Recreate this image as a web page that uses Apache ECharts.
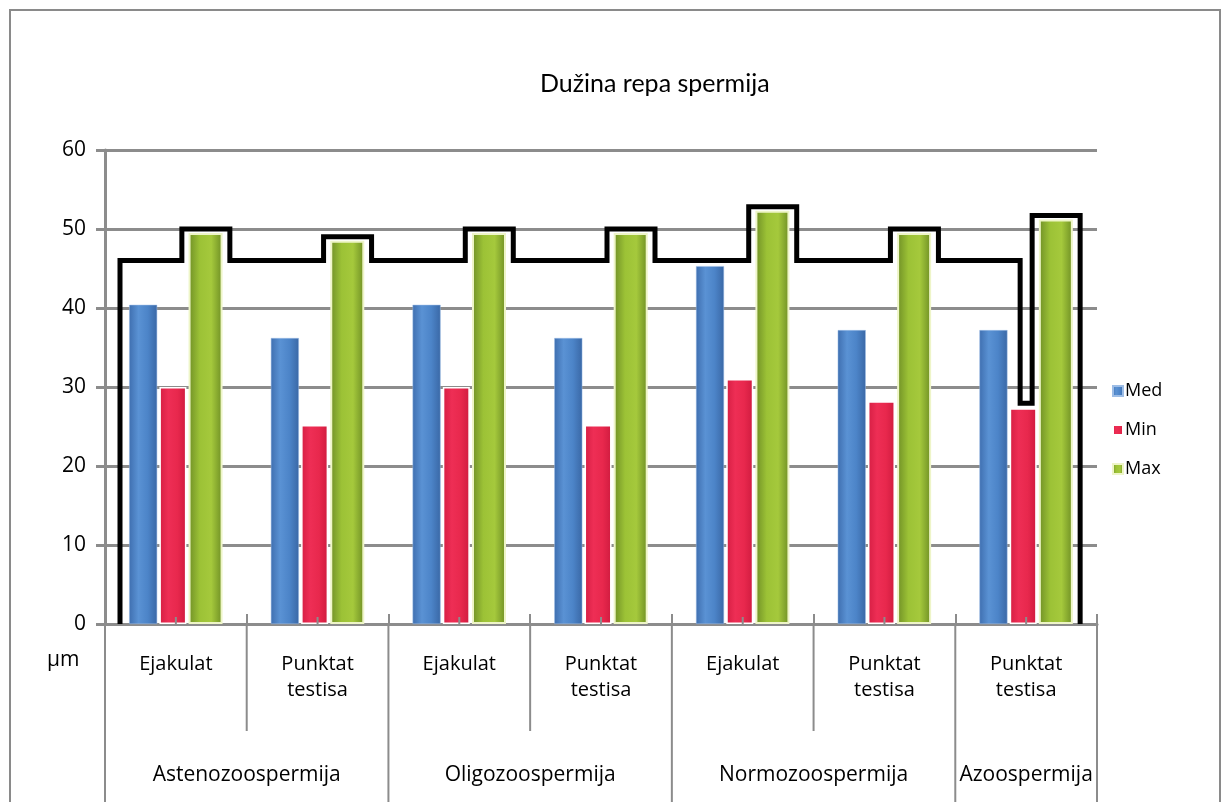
<!DOCTYPE html>
<html>
<head>
<meta charset="utf-8">
<script src="https://cdn.jsdelivr.net/npm/echarts@6/dist/echarts.min.js"></script>
<style>
html,body{margin:0;padding:0;background:#fff}
#chart{width:1231px;height:802px}
</style>
</head>
<body>
<div id="chart"></div>
<script>
// Sample types (inner axis level)
const categories = ['Ejakulat', 'Punktat\ntestisa', 'Ejakulat', 'Punktat\ntestisa', 'Ejakulat', 'Punktat\ntestisa', 'Punktat\ntestisa'];
// Diagnosis groups (outer axis level) and how many sample types each spans
const groups = ['Astenozoospermija', 'Oligozoospermija', 'Normozoospermija', 'Azoospermija'];
const groupSizes = [2, 2, 2, 1];
// Tail length in µm
const medValues = [40.4, 36.2, 40.4, 36.2, 45.3, 37.2, 37.2];
const minValues = [30.0, 25.2, 30.0, 25.2, 31.0, 28.2, 27.3];
const maxValues = [49.5, 48.5, 49.5, 49.5, 52.3, 49.5, 51.2];
const yTicks = [0, 10, 20, 30, 40, 50, 60];
const frameLevel = 46;

const FONT = '"Open Sans", Lato, sans-serif';
const TITLE_FONT = 'Lato, "Open Sans", sans-serif';
const GRID_GRAY = '#8C8C8C';

const chart = echarts.init(document.getElementById('chart'), null, { renderer: 'canvas' });

function hGrad(stops) {
  return new echarts.graphic.LinearGradient(0, 0, 1, 0, stops.map((c, k) => ({ offset: k / (stops.length - 1), color: c })));
}

// Separators, centre ticks and outer-level labels below the category axis
function renderAxisDecor(params, api) {
  const i = params.dataIndex;
  const base = api.coord([i, 0]);
  const band = api.size([1, 0])[0];
  const cx = base[0], y0 = base[1];
  const right = cx + band / 2;
  const left = cx - band / 2;
  const lvl1Bottom = y0 + 107;
  const bottom = y0 + 190;
  const ls = { stroke: GRID_GRAY, lineWidth: 2 };
  const children = [];
  children.push({ type: 'line', shape: { x1: cx, y1: y0 - 7, x2: cx, y2: y0 }, style: ls });
  children.push({ type: 'line', shape: { x1: right, y1: y0, x2: right, y2: lvl1Bottom }, style: ls });
  if (i === 0) {
    children.push({ type: 'line', shape: { x1: left, y1: y0, x2: left, y2: bottom }, style: ls });
  }
  let acc = 0;
  for (let g = 0; g < groups.length; g++) {
    const end = acc + groupSizes[g] - 1;
    if (end === i) {
      const gx = right - groupSizes[g] * band / 2;
      children.push({ type: 'line', shape: { x1: right, y1: lvl1Bottom, x2: right, y2: bottom }, style: ls });
      children.push({
        type: 'text',
        style: { text: groups[g], x: gx, y: y0 + 151, align: 'center', verticalAlign: 'middle', fill: '#000', font: '21px ' + FONT }
      });
    }
    acc += groupSizes[g];
  }
  return { type: 'group', children };
}

// Black stepped frame running along the tops of the Max bars
function renderFrame(params, api) {
  const band = api.size([1, 0])[0];
  const n = maxValues.length;
  const first = api.coord([0, 0]);
  const lvY = api.coord([0, frameLevel])[1];
  const startX = first[0] - band / 2 + 15;
  const pts = [[startX, first[1]], [startX, lvY]];
  for (let i = 0; i < n; i++) {
    const c = api.coord([i, maxValues[i]]);
    const mx = c[0] + 30;
    const top = c[1] - 4;
    if (i === n - 1) {
      const m = api.coord([i, minValues[i]]);
      const dx = c[0] - 6;
      const zero = api.coord([i, 0])[1];
      pts.push([dx, lvY], [dx, m[1] - 5], [mx - 24, m[1] - 5], [mx - 24, top], [mx + 24, top], [mx + 24, zero]);
    } else {
      pts.push([mx - 24, lvY], [mx - 24, top], [mx + 24, top], [mx + 24, lvY]);
    }
  }
  return { type: 'polyline', shape: { points: pts }, style: { stroke: '#000', lineWidth: 5, fill: null, lineJoin: 'miter' } };
}

const option = {
  backgroundColor: '#fff',
  animation: false,
  title: {
    text: 'Dužina repa spermija',
    left: 535,
    top: 66,
    textStyle: { fontFamily: TITLE_FONT, fontSize: 25, fontWeight: 'normal', color: '#000' }
  },
  legend: {
    orient: 'vertical',
    left: 1107,
    top: 377,
    itemWidth: 10,
    itemHeight: 10,
    itemGap: 21,
    icon: 'rect',
    data: ['Med', 'Min', 'Max'],
    textStyle: { fontFamily: FONT, fontSize: 18, color: '#000', padding: [0, 0, 0, -3] }
  },
  grid: { left: 105, right: 134, top: 150, bottom: 178, containLabel: false },
  xAxis: {
    type: 'category',
    data: categories,
    boundaryGap: true,
    axisLine: { show: true, lineStyle: { color: GRID_GRAY, width: 3 } },
    axisTick: { show: true, inside: true, length: 10, interval: 0, lineStyle: { color: GRID_GRAY, width: 2 } },
    axisLabel: { interval: 0, margin: 27, fontFamily: FONT, fontSize: 20, lineHeight: 26, color: '#000' }
  },
  yAxis: {
    type: 'value',
    min: yTicks[0],
    max: yTicks[yTicks.length - 1],
    interval: yTicks[1] - yTicks[0],
    axisLine: { show: true, lineStyle: { color: GRID_GRAY, width: 3 } },
    axisTick: { show: true, length: 9, lineStyle: { color: GRID_GRAY, width: 3 } },
    axisLabel: { margin: 19, fontFamily: FONT, fontSize: 21, color: '#000' },
    splitLine: { show: true, lineStyle: { color: GRID_GRAY, width: 3 } }
  },
  graphic: [
    { type: 'rect', shape: { x: 10, y: 10, width: 1210, height: 820 }, style: { fill: null, stroke: '#8A8A8A', lineWidth: 2 }, silent: true },
    { type: 'text', x: 47, y: 650, style: { text: 'µm', font: '21px ' + FONT, fill: '#000' } }
  ],
  series: [
    {
      name: 'frame',
      type: 'custom',
      renderItem: renderFrame,
      data: [[0, 0]],
      clip: false,
      z: 1,
      silent: true,
      legendHoverLink: false
    },
    {
      name: 'Med',
      type: 'bar',
      data: medValues,
      barWidth: 28,
      barGap: '8%',
      barCategoryGap: '30%',
      z: 3,
      itemStyle: { color: hGrad(['#3F6FB0', '#5A92D4', '#4C84C8', '#3A68A6']), borderColor: '#9DBDE6', borderWidth: 0.5 }
    },
    {
      name: 'Min',
      type: 'bar',
      data: minValues,
      barWidth: 27,
      z: 3,
      itemStyle: { color: hGrad(['#D51E43', '#EE2E55', '#E8284D', '#CF1B3F']), borderColor: '#ffffff', borderWidth: 1.5 }
    },
    {
      name: 'Max',
      type: 'bar',
      data: maxValues,
      barWidth: 34,
      z: 3,
      itemStyle: { color: hGrad(['#6F8F26', '#9CC236', '#A5C93C', '#6E8E24']), borderColor: '#EEF5C8', borderWidth: 2 }
    },
    {
      name: 'axisDecor',
      type: 'custom',
      renderItem: renderAxisDecor,
      data: categories.map((c, i) => [i, 0]),
      clip: false,
      z: 4,
      silent: true
    }
  ]
};

chart.setOption(option);
</script>
</body>
</html>
